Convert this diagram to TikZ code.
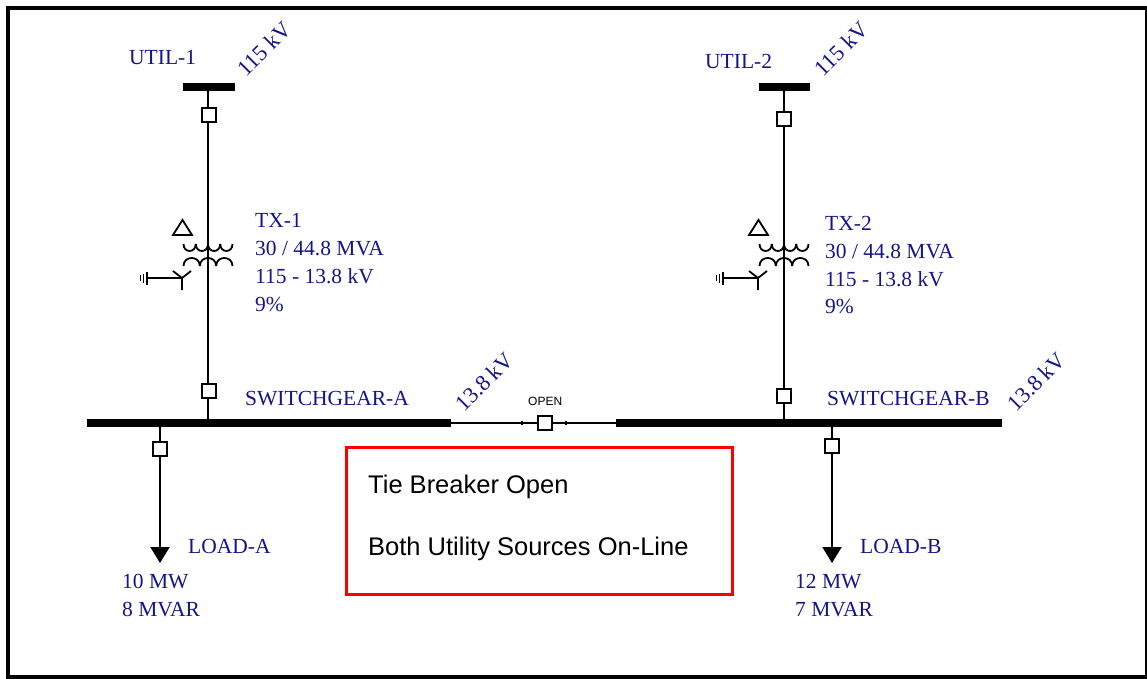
\documentclass[tikz,border=0pt]{standalone}
\usepackage{fontspec}
\setmainfont{Liberation Serif}
\newfontfamily\arialf{Liberation Sans}
\usetikzlibrary{arrows.meta}
\definecolor{navy}{RGB}{20,20,140}
\tikzset{
  wire/.style={line width=2pt},
  busbar/.style={line width=8pt},
  brk/.style={draw,line width=2pt,fill=white,minimum size=14pt,inner sep=0pt,outer sep=0pt},
  lbl/.style={text=navy,font=\fontsize{21.5}{24}\selectfont,anchor=base west,inner sep=0pt},
  rlbl/.style={text=navy,font=\fontsize{22.5}{24}\selectfont,anchor=base west,inner sep=0pt,rotate=45},
  boxtxt/.style={text=black,font=\arialf\fontsize{25.5}{30}\selectfont,anchor=base west,inner sep=0pt},
  sym/.style={line width=1.8pt},
  xfmr/.pic={
    \draw[sym] (-35,235) -- (-16,235) -- (-25.5,220) -- cycle;
    \foreach \i in {0,1,2,3}{
      \pgfmathsetmacro\xa{-24.5+12.25*\i}
      \pgfmathsetmacro\xb{\xa+12.25}
      \draw[sym] (\xa,244) .. controls (\xa,253.3) and (\xb,253.3) .. (\xb,244);
    }
    \foreach \i in {0,1,2}{
      \pgfmathsetmacro\xa{-24.5+16.33*\i}
      \pgfmathsetmacro\xb{\xa+16.33}
      \draw[sym] (\xa,266) .. controls (\xa,255.3) and (\xb,255.3) .. (\xb,266);
    }
    \draw[sym] (-35,271) -- (-26,278) -- (-17,271) (-26,278) -- (-26,290);
    \draw[sym] (-61,278) -- (-26,278);
    \draw[sym] (-61,271.5) -- (-61,284.5) (-64.5,273.5) -- (-64.5,282.5) (-67.5,275) -- (-67.5,281);
  }
}
\begin{document}
\begin{tikzpicture}[x=1pt,y=-1pt]
\useasboundingbox (0,0) rectangle (1147,679);
\draw[line width=4pt] (8,8) rectangle (1146.5,677);

% ---------- buses ----------
\coordinate (u1L) at (183,87); \coordinate (u1R) at (235,87);
\coordinate (u2L) at (759,87); \coordinate (u2R) at (810,87);
\coordinate (sAL) at (87,423); \coordinate (sAR) at (451,423);
\coordinate (sBL) at (616,423); \coordinate (sBR) at (1002,423);
\draw[busbar] (u1L) -- (u1R);
\draw[busbar] (u2L) -- (u2R);
\draw[busbar] (sAL) -- (sAR);
\draw[busbar] (sBL) -- (sBR);

% ---------- tap points ----------
\coordinate (u1) at (208,87);
\coordinate (u2) at (784,87);
\coordinate (sA1) at (208,423);
\coordinate (sA2) at (160,423);
\coordinate (sB1) at (784,423);
\coordinate (sB2) at (832,423);
\coordinate (tipA) at (160,563);
\coordinate (tipB) at (832,563);

% ---------- breakers ----------
\node[brk] (b1) at (209,115) {};
\node[brk] (b2) at (209,391) {};
\node[brk] (b3) at (784,119) {};
\node[brk] (b4) at (784,396) {};
\node[brk] (bla) at (160,449) {};
\node[brk] (blb) at (832,446) {};
\node[brk] (tie) at (545,423) {};

% ---------- connectors ----------
\draw[wire] (u1) -- (u1 |- b1.north);
\draw[wire] (b1.south -| u1) -- (b2.north -| u1);
\draw[wire] (b2.south -| u1) -- (sA1);
\draw[wire] (u2) -- (b3);
\draw[wire] (b3) -- (b4);
\draw[wire] (b4) -- (sB1);
\draw[wire] (sA2) -- (bla);
\draw[wire,-{Triangle[length=16pt,width=19pt]}] (bla) -- (tipA);
\draw[wire] (sB2) -- (blb);
\draw[wire,-{Triangle[length=16pt,width=19pt]}] (blb) -- (tipB);
\draw[line width=1.5pt] (sAR) -- (tie) -- (sBL);
\draw[line width=1.5pt] (522,420.5) -- (522,425) (566,420.5) -- (566,425);

% ---------- transformers ----------
\pic at (208,0) {xfmr};
\pic at (784,0) {xfmr};

% ---------- labels ----------
\node[lbl] (lu1) at (129,65) {UTIL-1};
\node[rlbl] (kv1) at (246,78) {115 kV};
\node[lbl] (lu2) at (705,69) {UTIL-2};
\node[rlbl] (kv2) at (823,78) {115 kV};

\node[lbl] (t1a) at (255,227) {TX-1};
\node[lbl] (t1b) at (255,255) {30 / 44.8 MVA};
\node[lbl] (t1c) at (255,283) {115 - 13.8 kV};
\node[lbl] (t1d) at (255,311.5) {9\%};
\node[lbl] (t2a) at (825,230) {TX-2};
\node[lbl] (t2b) at (825,258) {30 / 44.8 MVA};
\node[lbl] (t2c) at (825,286) {115 - 13.8 kV};
\node[lbl] (t2d) at (825,313.5) {9\%};

\node[lbl] (swa) at (245,405) {SWITCHGEAR-A};
\node[lbl] (swb) at (827,405) {SWITCHGEAR-B};
\node[rlbl] (kv3) at (464,413) {13.8 kV};
\node[rlbl] (kv4) at (1016,413) {13.8 kV};
\node[anchor=base west,inner sep=0pt,font=\arialf\fontsize{12}{14}\selectfont] (open) at (528,405) {OPEN};

\node[lbl] (lda) at (188,553) {LOAD-A};
\node[lbl] (lda1) at (122,588) {10 MW};
\node[lbl] (lda2) at (122,616) {8 MVAR};
\node[lbl] (ldb) at (860,553) {LOAD-B};
\node[lbl] (ldb1) at (795,588) {12 MW};
\node[lbl] (ldb2) at (795,616) {7 MVAR};

% ---------- note box ----------
\node[draw=red,line width=3pt,minimum width=386pt,minimum height=147pt,inner sep=0pt] (note) at (539,520.5) {};
\node[boxtxt] (n1) at (368,493) {Tie Breaker Open};
\node[boxtxt] (n2) at (368,555) {Both Utility Sources On-Line};
\end{tikzpicture}
\end{document}
